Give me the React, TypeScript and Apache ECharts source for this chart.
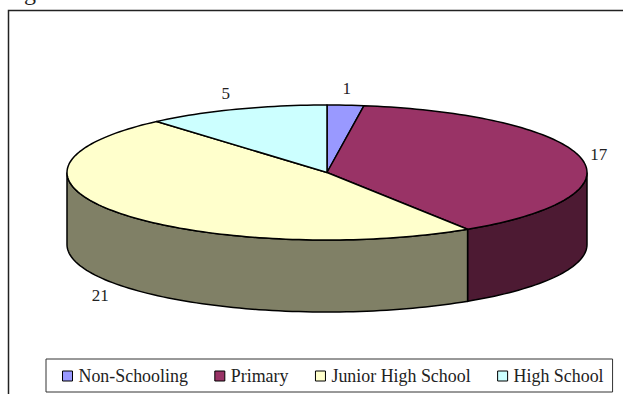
import React, { useEffect, useRef } from "react";
import * as echarts from "echarts";

const categories = ["Non-Schooling", "Primary", "Junior High School", "High School"];
const counts = [1, 17, 21, 5];
const topColors = ["#9999FF", "#993366", "#FFFFCC", "#CCFFFF"];
const wallColors = ["#4D1A33", "#4D1A33", "#808066", "#668080"];

const total = counts.reduce((a, b) => a + b, 0);
const TAU = Math.PI * 2;

// Elliptical disc standing in for a tilted cylinder.
const CX = 327;
const CY = 172.5;
const RX = 260;
const RY = 67.5;
const DEPTH = 72;
const FONT = '"Liberation Serif", "Times New Roman", serif';

// Angles run clockwise from twelve o'clock.
const pointAt = (a: number, dy = 0): number[] => [
  CX + RX * Math.sin(a),
  CY - RY * Math.cos(a) + dy,
];

const arcPoints = (from: number, to: number, dy = 0): number[][] => {
  const steps = Math.max(2, Math.ceil(((to - from) / TAU) * 240));
  const pts: number[][] = [];
  for (let i = 0; i <= steps; i++) pts.push(pointAt(from + ((to - from) * i) / steps, dy));
  return pts;
};

const sliceSeries = (index: number) => {
  const before = counts.slice(0, index).reduce((a, b) => a + b, 0);
  return {
    type: "custom",
    name: categories[index],
    coordinateSystem: "none",
    silent: true,
    itemStyle: { color: topColors[index] },
    data: [[counts[index]]],
    renderItem: (_params: unknown, api: { value: (d: number) => number }) => {
      const value = api.value(0);
      const start = (before / total) * TAU;
      const end = ((before + value) / total) * TAU;
      const mid = (start + end) / 2;
      const children: object[] = [];

      // Only the front half of the rim faces the viewer.
      const wallFrom = Math.max(start, Math.PI / 2);
      const wallTo = Math.min(end, (Math.PI * 3) / 2);
      if (wallTo > wallFrom) {
        children.push({
          type: "polygon",
          z2: 1,
          shape: {
            points: [...arcPoints(wallFrom, wallTo), ...arcPoints(wallFrom, wallTo, DEPTH).reverse()],
          },
          style: { fill: wallColors[index], stroke: "#000", lineWidth: 1.5 },
        });
      }

      children.push({
        type: "polygon",
        z2: 2,
        shape: { points: [[CX, CY], ...arcPoints(start, end)] },
        style: { fill: topColors[index], stroke: "#000", lineWidth: 1.5, lineJoin: "round" },
      });

      // Value labels sit just outside the rim; those on the near side clear the wall too.
      const front = Math.cos(mid) < 0 && Math.abs(Math.sin(mid)) < 0.9;
      const leftShift = Math.sin(mid) < 0 ? -4 : 0;
      children.push({
        type: "text",
        z2: 3,
        x: CX + RX * 1.07 * Math.sin(mid) + leftShift,
        y: CY - RY * 1.25 * Math.cos(mid) + (front ? DEPTH : 0),
        style: {
          text: String(value),
          fill: "#222",
          font: `17px ${FONT}`,
          align: "center",
          verticalAlign: "middle",
        },
      });
      return { type: "group", children };
    },
  };
};

export default function App() {
  const ref = useRef<HTMLDivElement>(null);

  useEffect(() => {
    const chart = echarts.init(ref.current!, undefined, { renderer: "svg" });
    chart.setOption({
      animation: false,
      backgroundColor: "#fff",
      legend: {
        left: 46,
        top: 359,
        data: categories,
        orient: "horizontal",
        icon: "rect",
        itemWidth: 10,
        itemHeight: 10,
        itemGap: 26.5,
        selectedMode: false,
        padding: [8, 9, 7, 16],
        borderColor: "#333",
        borderWidth: 1,
        textStyle: { fontFamily: FONT, fontSize: 17.9, color: "#222", padding: [0, 0, 0, 1] },
        itemStyle: { borderColor: "#000", borderWidth: 1 },
      },
      graphic: [
        {
          type: "polyline",
          silent: true,
          shape: { points: [[8.5, 394], [8.5, 10.5], [623, 10.5]] },
          style: { fill: "none", stroke: "#222", lineWidth: 1.5 },
        },
        {
          type: "text",
          silent: true,
          x: 24,
          y: -20,
          style: { text: "g", fill: "#222", font: `24px ${FONT}` },
        },
      ],
      series: counts.map((_, i) => sliceSeries(i)),
    });
    return () => chart.dispose();
  }, []);

  return <div ref={ref} style={{ position: "fixed", left: 0, top: 0, width: 623, height: 394 }} />;
}
